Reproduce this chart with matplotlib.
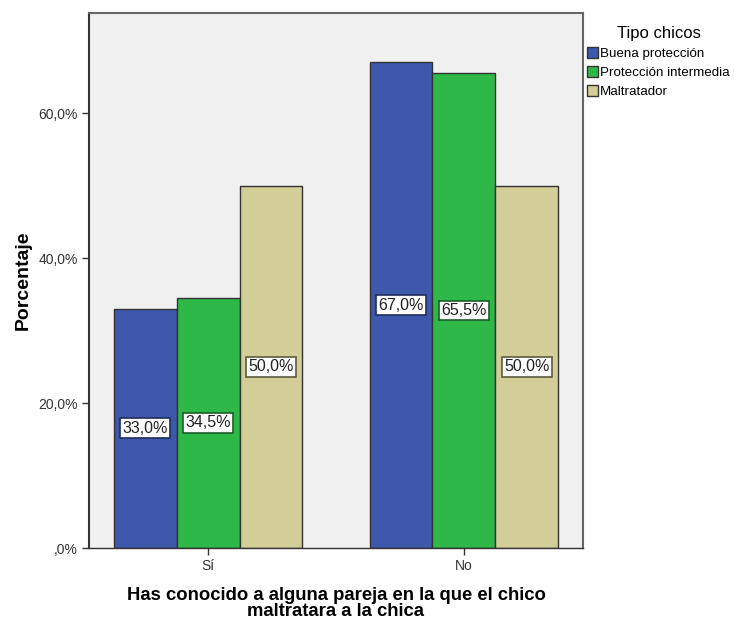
import numpy as np
import matplotlib.pyplot as plt
from matplotlib.patches import Patch

plt.rcParams['font.family'] = ['Liberation Sans', 'DejaVu Sans']

categorias = ['Sí', 'No']
series = ['Buena protección', 'Protección intermedia', 'Maltratador']
valores = {
    'Buena protección': [33.0, 67.0],
    'Protección intermedia': [34.5, 65.5],
    'Maltratador': [50.0, 50.0],
}
colores = ['#3E58AC', '#2EB848', '#D3CE97']
bordes = ['#1F2D5C', '#1B5E27', '#5E5A3E']

fig = plt.figure(figsize=(7.34, 6.2), dpi=100)
ax = fig.add_axes([89 / 734, (620 - 548) / 620, (583 - 89) / 734, (548 - 13) / 620])
ax.set_facecolor('#F0F0F0')

x = np.arange(len(categorias))
w = 0.246
for i, s in enumerate(series):
    pos = x + (i - 1) * w
    ax.bar(pos, valores[s], width=w, color=colores[i], edgecolor='#333333', linewidth=1.0, zorder=2)
    for xp, v in zip(pos, valores[s]):
        ax.text(xp, v / 2, f'{v:.1f}%'.replace('.', ','), ha='center', va='center', fontsize=11.5,
                color='#222222', zorder=3,
                bbox=dict(boxstyle='square,pad=0.15', facecolor='white', edgecolor=bordes[i], linewidth=1.2))

ax.set_xlim(-0.465, 1.465)
ax.set_ylim(0, 73.8)
ax.set_yticks([0, 20, 40, 60])
ax.set_yticklabels([',0%', '20,0%', '40,0%', '60,0%'], fontsize=10, color='#333333')
ax.set_xticks(x)
ax.set_xticklabels(categorias, fontsize=10, color='#333333')
ax.tick_params(axis='both', length=5, width=1, color='#333333', pad=3)
for sp in ax.spines.values():
    sp.set_color('#666666')
    sp.set_linewidth(1.5)
ax.spines['bottom'].set_color('#333333')
ax.spines['left'].set_color('#333333')
ax.spines['bottom'].set_linewidth(1.0)

ax.set_ylabel('Porcentaje', fontsize=14, fontweight='bold', labelpad=5)
ax.set_xlabel('Has conocido a alguna pareja en la que el chico\nmaltratara a la chica',
              fontsize=13.3, fontweight='bold', linespacing=0.95, labelpad=10)

handles = [Patch(facecolor=c, edgecolor='#333333', linewidth=1) for c in colores]
leg = fig.legend(handles, series, loc='upper left', bbox_to_anchor=(587 / 734, 1 - 26 / 620),
                 frameon=False, fontsize=9.6, title='Tipo chicos', title_fontsize=12,
                 handlelength=0.8, handleheight=0.9, handletextpad=0.2, labelspacing=0.45,
                 borderaxespad=0, borderpad=0)
leg._legend_box.align = 'center'

fig.savefig('out.png', dpi=100)
